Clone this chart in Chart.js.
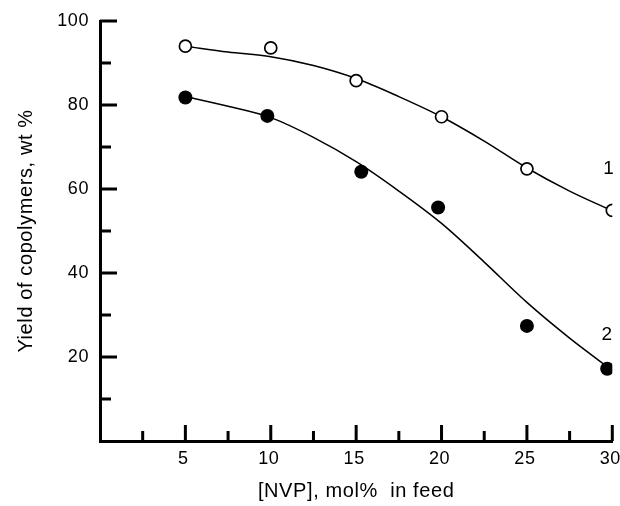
<!DOCTYPE html>
<html>
<head>
<meta charset="utf-8">
<script src="https://cdn.jsdelivr.net/npm/chart.js@4.4.1/dist/chart.umd.min.js"></script>
<style>
  html, body { margin: 0; padding: 0; background: #fff; }
  #myChart { display: block; }
</style>
</head>
<body>
<canvas id="myChart" width="620" height="506"></canvas>
<script>
// tick values
var xTicks = [5, 10, 15, 20, 25, 30];
var xMinor = [2.5, 7.5, 12.5, 17.5, 22.5, 27.5];
var yTicks = [20, 40, 60, 80, 100];
var yMinor = [10, 30, 50, 70, 90];

// measured points, curve 1 (open circles)
var nvp1 = [5, 10, 15, 20, 25, 30];
var yield1 = [94, 93.6, 85.8, 77.2, 64.8, 54.9];

// measured points, curve 2 (filled circles)
var nvp2 = [5, 9.8, 15.3, 19.8, 25, 29.7];
var yield2 = [81.8, 77.4, 64.1, 55.6, 27.4, 17.2];

// fitted lines
var fitX = [5, 7.5, 10, 12.5, 15, 17.5, 20, 22.5, 25, 27.5, 30];
var fit1 = [94, 92.6, 91.5, 89.4, 86.3, 82, 77.2, 71.4, 65, 59.5, 54.8];
var fit2 = [82, 79.7, 77, 72.3, 66.5, 59.5, 51.8, 42.6, 33, 24.5, 16.8];

// curve numbers and where they sit
var curveNames = ['1', '2'];
var curveNameX = [29.8, 29.7];
var curveNameY = [64.7, 25.3];

function pts(xs, ys) {
    return xs.map(function (x, i) { return { x: x, y: ys[i] }; });
}

var FONT = 'Liberation Sans, Arial, Helvetica, sans-serif';

var axisTicks = {
    id: 'axisTicks',
    beforeDraw: function (chart) {
        chart.ctx.letterSpacing = '0.6px';
    },
    afterDraw: function (chart) {
        var ctx = chart.ctx;
        var xs = chart.scales.x, ys = chart.scales.y;
        var left = chart.chartArea.left, bottom = chart.chartArea.bottom;
        ctx.save();
        ctx.strokeStyle = '#000';
        ctx.lineWidth = 3;
        ctx.lineCap = 'butt';
        ctx.beginPath();
        xTicks.forEach(function (v) {
            var p = xs.getPixelForValue(v);
            ctx.moveTo(p, bottom); ctx.lineTo(p, bottom - 16);
        });
        xMinor.forEach(function (v) {
            var p = xs.getPixelForValue(v);
            ctx.moveTo(p, bottom); ctx.lineTo(p, bottom - 10);
        });
        yTicks.forEach(function (v) {
            var p = ys.getPixelForValue(v);
            ctx.moveTo(left, p); ctx.lineTo(left + 17, p);
        });
        yMinor.forEach(function (v) {
            var p = ys.getPixelForValue(v);
            ctx.moveTo(left, p); ctx.lineTo(left + 11, p);
        });
        ctx.stroke();

        ctx.fillStyle = '#000';
        ctx.font = '19px ' + FONT;
        ctx.textAlign = 'center';
        ctx.textBaseline = 'middle';
        curveNames.forEach(function (t, i) {
            ctx.fillText(t, xs.getPixelForValue(curveNameX[i]), ys.getPixelForValue(curveNameY[i]));
        });
        ctx.restore();
    }
};

var ctx = document.getElementById('myChart').getContext('2d');
var myChart = new Chart(ctx, {
    type: 'scatter',
    data: {
        datasets: [
            {
                label: 'fit 1',
                data: pts(fitX, fit1),
                showLine: true,
                borderColor: '#000',
                borderWidth: 1.5,
                pointRadius: 0,
                cubicInterpolationMode: 'monotone',
                order: 3
            },
            {
                label: 'fit 2',
                data: pts(fitX, fit2),
                showLine: true,
                borderColor: '#000',
                borderWidth: 1.5,
                pointRadius: 0,
                cubicInterpolationMode: 'monotone',
                order: 3
            },
            {
                label: '1',
                data: pts(nvp1, yield1),
                pointRadius: 6,
                pointBorderWidth: 1.7,
                pointBorderColor: '#000',
                pointBackgroundColor: '#fff',
                order: 1
            },
            {
                label: '2',
                data: pts(nvp2, yield2),
                pointRadius: 7,
                pointBorderWidth: 0,
                pointBackgroundColor: '#000',
                order: 1
            }
        ]
    },
    options: {
        responsive: false,
        animation: false,
        layout: { padding: { top: 21, right: 7, left: 0, bottom: 0 } },
        plugins: { legend: { display: false }, tooltip: { enabled: false } },
        scales: {
            x: {
                type: 'linear',
                min: 0,
                max: 30,
                afterBuildTicks: function (s) { s.ticks = xTicks.map(function (v) { return { value: v }; }); },
                afterFit: function (s) { s.height = 65; s.paddingLeft = 0; s.paddingRight = 0; },
                grid: { display: false, drawTicks: false },
                border: { display: true, color: '#000', width: 3 },
                ticks: { color: '#000', padding: 7, labelOffset: -2, maxRotation: 0, font: { family: FONT, size: 18 } },
                title: {
                    display: true,
                    text: '[NVP], mol%  in feed',
                    color: '#000',
                    font: { family: FONT, size: 20 },
                    padding: { top: 0, bottom: 2.5 }
                }
            },
            y: {
                type: 'linear',
                min: 0,
                max: 100,
                afterBuildTicks: function (s) { s.ticks = yTicks.map(function (v) { return { value: v }; }); },
                afterFit: function (s) { s.width = 100; s.paddingTop = 0; s.paddingBottom = 0; },
                grid: { display: false, drawTicks: false },
                border: { display: true, color: '#000', width: 3 },
                ticks: { color: '#000', padding: 11, font: { family: FONT, size: 18 } },
                title: {
                    display: true,
                    text: 'Yield of copolymers, wt %',
                    color: '#000',
                    font: { family: FONT, size: 20 },
                    padding: { top: 14, bottom: 0 }
                }
            }
        }
    },
    plugins: [axisTicks]
});
</script>
</body>
</html>
